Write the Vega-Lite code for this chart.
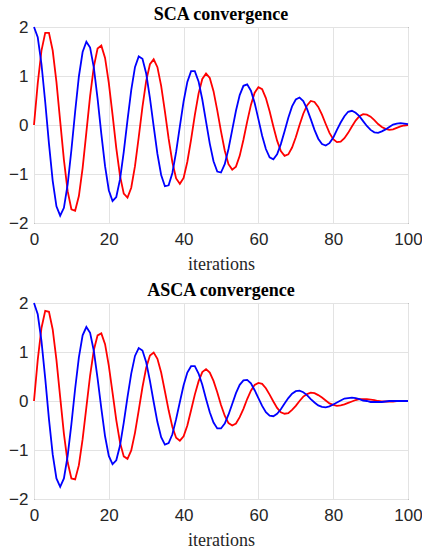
{
  "$schema": "https://vega.github.io/schema/vega-lite/v6.json",
  "padding": {"left": 8, "top": 5, "right": 0, "bottom": 0},
  "spacing": 7,
  "config": {
    "view": {"stroke": "#262626", "strokeWidth": 1},
    "axis": {"grid": true, "gridColor": "#e3e3e3", "gridWidth": 1, "domain": false, "ticks": false,
      "labelFont": "Liberation Sans", "labelFontSize": 17, "labelColor": "#262626", "labelPadding": 6,
      "titleFont": "Liberation Serif", "titleFontWeight": "normal", "titleFontSize": 18, "titleColor": "#262626", "titlePadding": 8},
    "axisX": {"labelFlush": false, "labelPadding": 8},
    "title": {"font": "Liberation Serif", "fontSize": 18, "fontWeight": "bold", "color": "#000000", "baseline": "alphabetic", "offset": -6}
  },
  "datasets": {
    "sca": [
      {"k":0,"b":2,"r":0},{"k":1,"b":1.79,"r":0.85},{"k":2,"b":1.24,"r":1.52},{"k":3,"b":0.47,"r":1.88},{"k":4,"b":-0.38,"r":1.88},
      {"k":5,"b":-1.14,"r":1.52},{"k":6,"b":-1.66,"r":0.88},{"k":7,"b":-1.85,"r":0.08},{"k":8,"b":-1.69,"r":-0.71},{"k":9,"b":-1.21,"r":-1.35},
      {"k":10,"b":-0.51,"r":-1.72},{"k":11,"b":0.27,"r":-1.75},{"k":12,"b":0.99,"r":-1.45},{"k":13,"b":1.49,"r":-0.88},{"k":14,"b":1.70,"r":-0.15},
      {"k":15,"b":1.58,"r":0.59},{"k":16,"b":1.17,"r":1.19},{"k":17,"b":0.54,"r":1.56},{"k":18,"b":-0.18,"r":1.62},{"k":19,"b":-0.84,"r":1.37},
      {"k":20,"b":-1.33,"r":0.86},{"k":21,"b":-1.55,"r":0.21},{"k":22,"b":-1.47,"r":-0.47},{"k":23,"b":-1.11,"r":-1.04},{"k":24,"b":-0.55,"r":-1.40},
      {"k":25,"b":0.10,"r":-1.48},{"k":26,"b":0.71,"r":-1.28},{"k":27,"b":1.18,"r":-0.84},{"k":28,"b":1.40,"r":-0.25},{"k":29,"b":1.35,"r":0.37},
      {"k":30,"b":1.05,"r":0.90},{"k":31,"b":0.55,"r":1.24},{"k":32,"b":-0.03,"r":1.34},{"k":33,"b":-0.59,"r":1.18},{"k":34,"b":-1.02,"r":0.80},
      {"k":35,"b":-1.25,"r":0.28},{"k":36,"b":-1.23,"r":-0.28},{"k":37,"b":-0.98,"r":-0.76},{"k":38,"b":-0.55,"r":-1.09},{"k":39,"b":-0.03,"r":-1.20},
      {"k":40,"b":0.48,"r":-1.08},{"k":41,"b":0.88,"r":-0.75},{"k":42,"b":1.10,"r":-0.30},{"k":43,"b":1.10,"r":0.20},{"k":44,"b":0.89,"r":0.64},
      {"k":45,"b":0.52,"r":0.94},{"k":46,"b":0.07,"r":1.05},{"k":47,"b":-0.38,"r":0.96},{"k":48,"b":-0.74,"r":0.69},{"k":49,"b":-0.95,"r":0.30},
      {"k":50,"b":-0.97,"r":-0.13},{"k":51,"b":-0.80,"r":-0.52},{"k":52,"b":-0.49,"r":-0.80},{"k":53,"b":-0.10,"r":-0.91},{"k":54,"b":0.29,"r":-0.85},
      {"k":55,"b":0.61,"r":-0.63},{"k":56,"b":0.80,"r":-0.30},{"k":57,"b":0.83,"r":0.07},{"k":58,"b":0.70,"r":0.41},{"k":59,"b":0.45,"r":0.66},
      {"k":60,"b":0.12,"r":0.77},{"k":61,"b":-0.22,"r":0.73},{"k":62,"b":-0.49,"r":0.55},{"k":63,"b":-0.66,"r":0.28},{"k":64,"b":-0.70,"r":-0.03},
      {"k":65,"b":-0.60,"r":-0.32},{"k":66,"b":-0.39,"r":-0.53},{"k":67,"b":-0.13,"r":-0.63},{"k":68,"b":0.15,"r":-0.60},{"k":69,"b":0.38,"r":-0.46},
      {"k":70,"b":0.52,"r":-0.25},{"k":71,"b":0.56,"r":0.00},{"k":72,"b":0.49,"r":0.23},{"k":73,"b":0.33,"r":0.40},{"k":74,"b":0.12,"r":0.49},
      {"k":75,"b":-0.10,"r":0.47},{"k":76,"b":-0.28,"r":0.37},{"k":77,"b":-0.39,"r":0.21},{"k":78,"b":-0.42,"r":0.02},{"k":79,"b":-0.37,"r":-0.16},
      {"k":80,"b":-0.26,"r":-0.29},{"k":81,"b":-0.10,"r":-0.35},{"k":82,"b":0.05,"r":-0.34},{"k":83,"b":0.18,"r":-0.27},{"k":84,"b":0.27,"r":-0.16},
      {"k":85,"b":0.29,"r":-0.03},{"k":86,"b":0.25,"r":0.09},{"k":87,"b":0.18,"r":0.18},{"k":88,"b":0.08,"r":0.22},{"k":89,"b":-0.02,"r":0.21},
      {"k":90,"b":-0.10,"r":0.17},{"k":91,"b":-0.15,"r":0.10},{"k":92,"b":-0.16,"r":0.02},{"k":93,"b":-0.13,"r":-0.04},{"k":94,"b":-0.09,"r":-0.08},
      {"k":95,"b":-0.04,"r":-0.10},{"k":96,"b":0.01,"r":-0.09},{"k":97,"b":0.03,"r":-0.06},{"k":98,"b":0.04,"r":-0.03},{"k":99,"b":0.03,"r":-0.01},
      {"k":100,"b":0.02,"r":0.00}
    ],
    "asca": [
      {"k":0,"b":2,"r":0},{"k":1,"b":1.77,"r":0.84},{"k":2,"b":1.22,"r":1.49},{"k":3,"b":0.46,"r":1.84},{"k":4,"b":-0.37,"r":1.82},
      {"k":5,"b":-1.09,"r":1.46},{"k":6,"b":-1.58,"r":0.84},{"k":7,"b":-1.75,"r":0.08},{"k":8,"b":-1.58,"r":-0.67},{"k":9,"b":-1.12,"r":-1.25},
      {"k":10,"b":-0.47,"r":-1.58},{"k":11,"b":0.25,"r":-1.60},{"k":12,"b":0.89,"r":-1.31},{"k":13,"b":1.34,"r":-0.78},{"k":14,"b":1.51,"r":-0.13},
      {"k":15,"b":1.39,"r":0.52},{"k":16,"b":1.02,"r":1.04},{"k":17,"b":0.46,"r":1.34},{"k":18,"b":-0.15,"r":1.38},{"k":19,"b":-0.72,"r":1.16},
      {"k":20,"b":-1.12,"r":0.72},{"k":21,"b":-1.29,"r":0.17},{"k":22,"b":-1.21,"r":-0.39},{"k":23,"b":-0.91,"r":-0.85},{"k":24,"b":-0.44,"r":-1.13},
      {"k":25,"b":0.08,"r":-1.18},{"k":26,"b":0.56,"r":-1.01},{"k":27,"b":0.92,"r":-0.65},{"k":28,"b":1.08,"r":-0.19},{"k":29,"b":1.03,"r":0.28},
      {"k":30,"b":0.79,"r":0.68},{"k":31,"b":0.41,"r":0.93},{"k":32,"b":-0.02,"r":0.99},{"k":33,"b":-0.43,"r":0.86},{"k":34,"b":-0.74,"r":0.58},
      {"k":35,"b":-0.89,"r":0.20},{"k":36,"b":-0.86,"r":-0.19},{"k":37,"b":-0.68,"r":-0.53},{"k":38,"b":-0.37,"r":-0.75},{"k":39,"b":-0.02,"r":-0.81},
      {"k":40,"b":0.32,"r":-0.72},{"k":41,"b":0.58,"r":-0.50},{"k":42,"b":0.71,"r":-0.19},{"k":43,"b":0.71,"r":0.13},{"k":44,"b":0.56,"r":0.40},
      {"k":45,"b":0.33,"r":0.59},{"k":46,"b":0.04,"r":0.65},{"k":47,"b":-0.23,"r":0.58},{"k":48,"b":-0.44,"r":0.41},{"k":49,"b":-0.56,"r":0.18},
      {"k":50,"b":-0.56,"r":-0.08},{"k":51,"b":-0.46,"r":-0.30},{"k":52,"b":-0.28,"r":-0.45},{"k":53,"b":-0.06,"r":-0.50},{"k":54,"b":0.16,"r":-0.46},
      {"k":55,"b":0.33,"r":-0.33},{"k":56,"b":0.42,"r":-0.16},{"k":57,"b":0.43,"r":0.04},{"k":58,"b":0.36,"r":0.21},{"k":59,"b":0.22,"r":0.33},
      {"k":60,"b":0.06,"r":0.37},{"k":61,"b":-0.10,"r":0.35},{"k":62,"b":-0.23,"r":0.26},{"k":63,"b":-0.30,"r":0.13},{"k":64,"b":-0.31,"r":-0.01},
      {"k":65,"b":-0.26,"r":-0.14},{"k":66,"b":-0.17,"r":-0.23},{"k":67,"b":-0.05,"r":-0.26},{"k":68,"b":0.06,"r":-0.25},{"k":69,"b":0.15,"r":-0.18},
      {"k":70,"b":0.20,"r":-0.10},{"k":71,"b":0.21,"r":0.00},{"k":72,"b":0.18,"r":0.09},{"k":73,"b":0.12,"r":0.14},{"k":74,"b":0.04,"r":0.17},
      {"k":75,"b":-0.03,"r":0.16},{"k":76,"b":-0.09,"r":0.12},{"k":77,"b":-0.12,"r":0.07},{"k":78,"b":-0.13,"r":0.01},{"k":79,"b":-0.11,"r":-0.05},
      {"k":80,"b":-0.07,"r":-0.08},{"k":81,"b":-0.03,"r":-0.10},{"k":82,"b":0.01,"r":-0.09},{"k":83,"b":0.05,"r":-0.07},{"k":84,"b":0.06,"r":-0.04},
      {"k":85,"b":0.07,"r":-0.01},{"k":86,"b":0.06,"r":0.02},{"k":87,"b":0.04,"r":0.04},{"k":88,"b":0.01,"r":0.04},{"k":89,"b":0.00,"r":0.04},
      {"k":90,"b":-0.02,"r":0.03},{"k":91,"b":-0.02,"r":0.02},{"k":92,"b":-0.02,"r":0.00},{"k":93,"b":-0.02,"r":-0.01},{"k":94,"b":-0.01,"r":-0.01},
      {"k":95,"b":0.00,"r":-0.01},{"k":96,"b":0.00,"r":-0.01},{"k":97,"b":0.00,"r":0.00},{"k":98,"b":0.00,"r":0.00},{"k":99,"b":0.00,"r":0.00},
      {"k":100,"b":0.00,"r":0.00}
    ]
  },
  "vconcat": [
    {
      "width": 374, "height": 196,
      "title": {"text": "SCA convergence"},
      "data": {"name": "sca"},
      "encoding": {"x": {"field": "k", "type": "quantitative", "scale": {"domain": [0, 100], "nice": false}, "axis": {"values": [0, 20, 40, 60, 80, 100], "title": "iterations"}}},
      "layer": [
        {"mark": {"type": "line", "color": "#ff0000", "strokeWidth": 1.8}, "encoding": {"y": {"field": "r", "type": "quantitative", "scale": {"domain": [-2, 2], "nice": false}, "axis": {"values": [-2, -1, 0, 1, 2], "title": null}}}},
        {"mark": {"type": "line", "color": "#0000ff", "strokeWidth": 1.8}, "encoding": {"y": {"field": "b", "type": "quantitative", "scale": {"domain": [-2, 2], "nice": false}, "axis": {"values": [-2, -1, 0, 1, 2], "title": null}}}}
      ]
    },
    {
      "width": 374, "height": 196,
      "title": {"text": "ASCA convergence"},
      "data": {"name": "asca"},
      "encoding": {"x": {"field": "k", "type": "quantitative", "scale": {"domain": [0, 100], "nice": false}, "axis": {"values": [0, 20, 40, 60, 80, 100], "title": "iterations"}}},
      "layer": [
        {"mark": {"type": "line", "color": "#ff0000", "strokeWidth": 1.8}, "encoding": {"y": {"field": "r", "type": "quantitative", "scale": {"domain": [-2, 2], "nice": false}, "axis": {"values": [-2, -1, 0, 1, 2], "title": null}}}},
        {"mark": {"type": "line", "color": "#0000ff", "strokeWidth": 1.8}, "encoding": {"y": {"field": "b", "type": "quantitative", "scale": {"domain": [-2, 2], "nice": false}, "axis": {"values": [-2, -1, 0, 1, 2], "title": null}}}}
      ]
    }
  ]
}
